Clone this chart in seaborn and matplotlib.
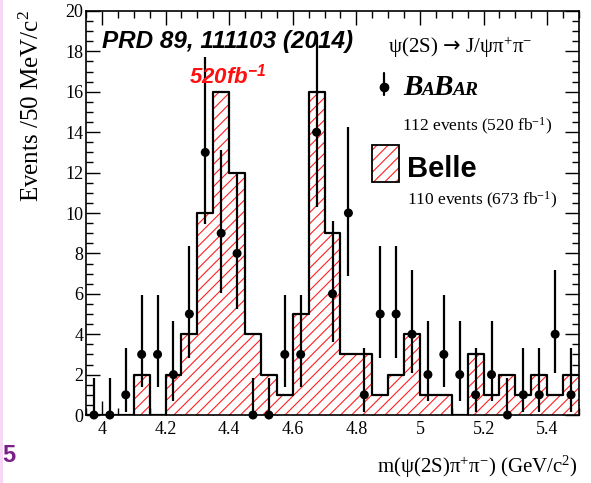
import numpy as np
import pandas as pd
import matplotlib
matplotlib.use("Agg")
import matplotlib.pyplot as plt
import seaborn as sns
from matplotlib.ticker import MultipleLocator, FormatStrFormatter
from matplotlib.patches import Rectangle
from matplotlib.lines import Line2D

# ---------------- data ----------------
bin_start = 3.95
bin_width = 0.05
n_bins = 31
bin_edges = [round(bin_start + bin_width * i, 4) for i in range(n_bins + 1)]
bin_centers = [round(e + bin_width / 2, 4) for e in bin_edges[:-1]]

belle_counts = [0, 0, 0, 2, 0, 2, 4, 10, 16, 12, 4, 2, 1, 5, 16, 9,
                3, 3, 1, 2, 4, 1, 1, 0, 3, 1, 2, 1, 2, 1, 2]
babar_counts = [0, 0, 1, 3, 3, 2, 5, 13, 9, 8, 0, 0, 3, 3, 14, 6,
                10, 1, 5, 5, 4, 2, 3, 2, 1, 2, 0, 1, 1, 4, 1]
babar_low = [0, 0, 0.17, 1.37, 1.37, 0.71, 2.84, 9.44, 6.06, 5.23, 0, 0,
             1.37, 1.37, 10.30, 3.62, 6.89, 0.17, 2.84, 2.84, 2.09, 0.71,
             1.37, 0.71, 0.17, 0.71, 0, 0.17, 0.17, 2.09, 0.17]
babar_high = [1.84, 1.84, 3.30, 5.92, 5.92, 4.64, 8.38, 17.70, 13.11, 11.94,
              1.84, 1.84, 5.92, 5.92, 18.83, 9.58, 14.27, 3.30, 8.38, 8.38,
              7.16, 4.64, 5.92, 4.64, 3.30, 4.64, 1.84, 3.30, 3.30, 7.16, 3.30]

x_ticks_major = 0.2
y_ticks = list(range(0, 21, 2))
babar_parts = ["B", "A", "B", "AR"]
babar_sizes = [21, 14, 21, 14]

df = pd.DataFrame({"m": bin_centers, "belle": belle_counts,
                   "babar": babar_counts,
                   "lo": babar_low, "hi": babar_high})

# ---------------- style ----------------
sns.set_style("ticks")
plt.rcParams["font.family"] = ["Liberation Serif", "DejaVu Serif"]
plt.rcParams["text.color"] = "black"
plt.rcParams["axes.labelcolor"] = "black"
plt.rcParams["xtick.color"] = "black"
plt.rcParams["ytick.color"] = "black"
plt.rcParams["axes.edgecolor"] = "black"
plt.rcParams["mathtext.fontset"] = "custom"
plt.rcParams["mathtext.rm"] = "Liberation Serif"
plt.rcParams["mathtext.it"] = "Liberation Serif:italic"
plt.rcParams["mathtext.bf"] = "Liberation Sans:italic:bold"
plt.rcParams["mathtext.sf"] = "DejaVu Sans"
plt.rcParams["mathtext.default"] = "rm"
plt.rcParams["hatch.linewidth"] = 0.8
plt.rcParams["hatch.color"] = "#ff2020"

W, H = 591, 483
def fx(x):
    return x / W
def fy(y):
    return 1 - y / H

fig = plt.figure(figsize=(W / 100, H / 100), dpi=100)
fig.patch.set_facecolor("white")
ax = fig.add_axes([fx(86), fy(415), (579 - 86) / W, (415 - 11) / H])

# Belle hatched histogram
sns.histplot(data=df, x="m", weights="belle", bins=bin_edges, element="step",
             fill=True, facecolor="white", edgecolor="#ff2020", linewidth=0,
             hatch="///", alpha=1, ax=ax, zorder=1)
sns.histplot(data=df, x="m", weights="belle", bins=bin_edges, element="step",
             fill=False, color="black", linewidth=1.6, ax=ax, zorder=2)

# BaBar points with asymmetric Poisson errors
yerr = [df["babar"] - df["lo"], df["hi"] - df["babar"]]
ax.errorbar(df["m"], df["babar"], yerr=yerr, fmt="none", ecolor="black",
            elinewidth=1.6, capsize=0, zorder=4, clip_on=False)
sns.scatterplot(data=df, x="m", y="babar", color="black", s=42,
                edgecolor="none", ax=ax, zorder=5, clip_on=False)

ax.set_xlim(bin_edges[0], bin_edges[-1])
ax.set_ylim(0, 20)
ax.set_xlabel("")
ax.set_ylabel("")
ax.xaxis.set_major_locator(MultipleLocator(x_ticks_major))
ax.xaxis.set_minor_locator(MultipleLocator(bin_width))
ax.xaxis.set_major_formatter(FormatStrFormatter("%g"))
ax.set_yticks(y_ticks)
ax.yaxis.set_minor_locator(MultipleLocator(0.5))
ax.tick_params(which="both", direction="in", top=True, right=True,
               labelsize=13, width=1.0, color="black", labelcolor="black")
ax.tick_params(which="major", length=10)
ax.tick_params(which="minor", length=5)
ax.tick_params(axis="y", pad=2)
ax.tick_params(axis="x", pad=4)
for sp in ax.spines.values():
    sp.set_linewidth(1.2)
    sp.set_color("black")
    sp.set_zorder(6)

# axis titles
fig.text(fx(578), fy(473), r"m($\psi$(2S)$\pi^{+}\pi^{-}$) (GeV/c$^{2}$)",
         ha="right", va="baseline", fontsize=15, color="black")
fig.text(fx(44), fy(10), r"Events /50 MeV/c$^{2}$", rotation=90,
         ha="right", va="top", fontsize=18, color="black")

# annotations
fig.text(fx(102), fy(48), "PRD 89, 111103 (2014)", ha="left", va="baseline",
         fontsize=17.5, family="Liberation Sans", weight="bold",
         style="italic", color="black")
fig.text(fx(189), fy(83), r"520fb$^{\mathbf{-1}}$", ha="left", va="baseline",
         fontsize=16, family="Liberation Sans", weight="bold",
         style="italic", color="#ff1010")

# legend-like block
fig.text(fx(388), fy(53),
         r"$\psi(2S)\,\mathsf{\rightarrow}\,J/\psi\pi^{+}\pi^{-}$",
         ha="left", va="baseline", fontsize=15, color="black")
fig.add_artist(Line2D([fx(384), fx(384)], [fy(73), fy(95)],
                      color="black", lw=1.6, transform=fig.transFigure))
fig.add_artist(Line2D([fx(384)], [fy(87)], marker="o", markersize=6,
                      color="black", transform=fig.transFigure))
renderer = fig.canvas.get_renderer()
xpos = 403
for part, size in zip(babar_parts, babar_sizes):
    t = fig.text(fx(xpos), fy(95), part, ha="left", va="baseline",
                 fontsize=size, family="Liberation Serif", weight="bold",
                 style="italic", color="black")
    xpos += t.get_window_extent(renderer).width - 1
fig.text(fx(402), fy(131), r"112 events (520 fb$^{-1}$)", ha="left",
         va="baseline", fontsize=12.5, color="black")

fig.add_artist(Rectangle((fx(372), fy(182)), 27 / W, 37 / H,
                         transform=fig.transFigure, facecolor="white",
                         edgecolor="#ff2020", linewidth=0, hatch="///"))
fig.add_artist(Rectangle((fx(372), fy(182)), 27 / W, 37 / H,
                         transform=fig.transFigure, facecolor="none",
                         edgecolor="black", linewidth=1.3))
fig.text(fx(407), fy(177), "Belle", ha="left", va="baseline", fontsize=21,
         family="Liberation Sans", weight="bold", color="black")
fig.text(fx(407), fy(205), r"110 events (673 fb$^{-1}$)", ha="left",
         va="baseline", fontsize=12.5, color="black")

# slide artefacts at the left edge
fig.add_artist(Rectangle((0, 0), 2.5 / W, 1, transform=fig.transFigure,
                         facecolor="#f6d8f6", edgecolor="none"))
fig.text(fx(2), fy(462), "5", ha="left", va="baseline", fontsize=17,
         family="Liberation Sans", weight="bold", color="#7a1f88")

fig.savefig("out.png", dpi=100)
